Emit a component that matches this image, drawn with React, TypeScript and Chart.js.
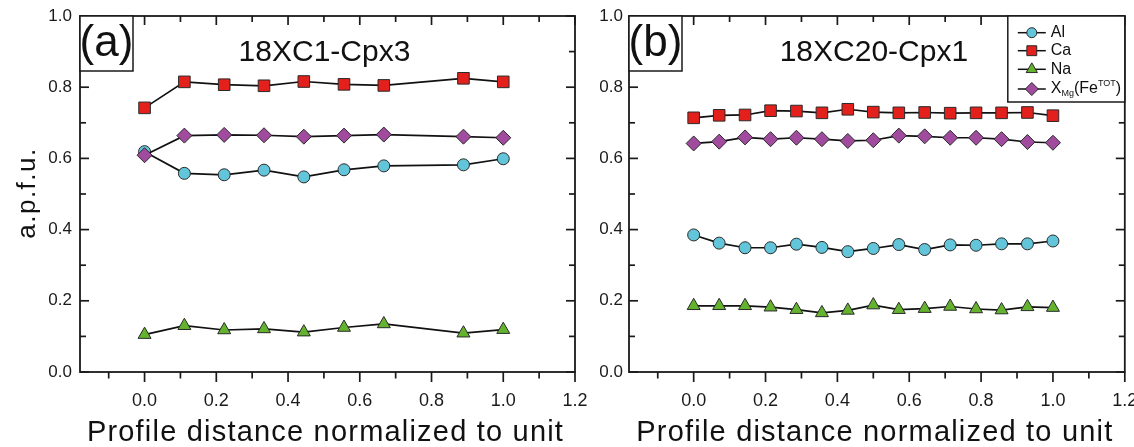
import React, { useEffect, useRef } from 'react';
import { Chart, registerables } from 'chart.js';

Chart.register(...registerables);

const FONT = '"Liberation Sans", Arial, Helvetica, sans-serif';

// ---------- data ----------
const seriesNames = ['Al', 'Ca', 'Na', 'XMg'];

// Panel (a) 18XC1-Cpx3
const aX = [0, 0.111, 0.222, 0.333, 0.444, 0.556, 0.667, 0.889, 1.0];
const aAl = [0.619, 0.558, 0.554, 0.567, 0.548, 0.568, 0.579, 0.582, 0.599];
const aCa = [0.742, 0.815, 0.807, 0.804, 0.816, 0.808, 0.805, 0.825, 0.815];
const aNa = [0.105, 0.13, 0.118, 0.121, 0.112, 0.125, 0.135, 0.109, 0.119];
const aXMg = [0.609, 0.664, 0.666, 0.665, 0.661, 0.664, 0.667, 0.661, 0.658];

// Panel (b) 18XC20-Cpx1
const bX = [0, 0.071, 0.143, 0.214, 0.286, 0.357, 0.429, 0.5, 0.571, 0.643, 0.714, 0.786, 0.857, 0.929, 1.0];
const bAl = [0.385, 0.362, 0.349, 0.349, 0.359, 0.35, 0.338, 0.347, 0.358, 0.344, 0.357, 0.356, 0.36, 0.36, 0.368];
const bCa = [0.714, 0.721, 0.722, 0.734, 0.733, 0.728, 0.738, 0.73, 0.728, 0.729, 0.727, 0.728, 0.728, 0.729, 0.72];
const bNa = [0.186, 0.186, 0.186, 0.182, 0.175, 0.166, 0.173, 0.188, 0.175, 0.178, 0.184, 0.177, 0.174, 0.183, 0.181];
const bXMg = [0.642, 0.647, 0.659, 0.654, 0.658, 0.654, 0.649, 0.651, 0.664, 0.662, 0.658, 0.658, 0.654, 0.646, 0.644];

// axes
const xTicks = [-0.1, 0, 0.1, 0.2, 0.3, 0.4, 0.5, 0.6, 0.7, 0.8, 0.9, 1.0, 1.1, 1.2];
const yTicks = [0, 0.1, 0.2, 0.3, 0.4, 0.5, 0.6, 0.7, 0.8, 0.9, 1.0];
const xMin = -0.18;
const xMax = 1.2;
const yMin = 0;
const yMax = 1.0;
const xTitle = 'Profile distance normalized to unit';
const yTitle = 'a.p.f.u.';

// styles
const COLORS = ['#62C5DA', '#E3201B', '#64B32E', '#A04B9E'];
const STYLES = ['circle', 'rect', 'triangle', 'rectRot'];
const RADII = [6, 8.2, 7.5, 7.5];
const ORDERS = [1, 2, 3, 0];

const isMajor = (v: number) => Math.abs(Math.round(v * 10)) % 2 === 0;

function drawMarker(ctx: CanvasRenderingContext2D, style: string, x: number, y: number, r: number, fill: string) {
  ctx.save();
  ctx.fillStyle = fill;
  ctx.strokeStyle = '#2a2a2a';
  ctx.lineWidth = 1;
  ctx.beginPath();
  if (style === 'circle') {
    ctx.arc(x, y, r, 0, Math.PI * 2);
  } else if (style === 'rect') {
    const s = r * Math.SQRT1_2;
    ctx.rect(x - s, y - s, 2 * s, 2 * s);
  } else if (style === 'triangle') {
    let a = 0;
    ctx.moveTo(x + Math.sin(a) * r, y - Math.cos(a) * r);
    a += (2 * Math.PI) / 3;
    ctx.lineTo(x + Math.sin(a) * r, y - Math.cos(a) * r);
    a += (2 * Math.PI) / 3;
    ctx.lineTo(x + Math.sin(a) * r, y - Math.cos(a) * r);
    ctx.closePath();
  } else {
    ctx.moveTo(x, y - r);
    ctx.lineTo(x + r, y);
    ctx.lineTo(x, y + r);
    ctx.lineTo(x - r, y);
    ctx.closePath();
  }
  ctx.fill();
  ctx.stroke();
  ctx.restore();
}

type PanelProps = {
  xs: number[];
  series: number[][];
  tag: string;
  title: string;
  showYTitle: boolean;
  showLegend: boolean;
  canvasWidth: number;
  left: number;
  yAxisWidth: number;
  padRight: number;
  yLabelPad: number;
};

function makeDeco(p: PanelProps) {
  return {
    id: 'deco',
    afterDraw(chart: any) {
      const ctx: CanvasRenderingContext2D = chart.ctx;
      const { left, right, top, bottom } = chart.chartArea;
      const xs = chart.scales.x;
      const ys = chart.scales.y;
      ctx.save();
      ctx.strokeStyle = '#1a1a1a';
      ctx.lineWidth = 1.7;
      const seg = (x1: number, y1: number, x2: number, y2: number) => {
        ctx.beginPath();
        ctx.moveTo(x1, y1);
        ctx.lineTo(x2, y2);
        ctx.stroke();
      };
      // ticks
      for (const t of xs.ticks) {
        const px = xs.getPixelForValue(t.value);
        const mj = isMajor(t.value);
        seg(px, bottom, px, bottom + (mj ? 10 : 6.5));
        seg(px, top, px, top + (mj ? 9 : 6));
      }
      for (const t of ys.ticks) {
        const py = ys.getPixelForValue(t.value);
        const mj = isMajor(t.value);
        seg(left, py, left + (mj ? 9 : 6), py);
        seg(right, py, right - (mj ? 9 : 6), py);
      }
      // frame
      ctx.lineWidth = 1.8;
      ctx.strokeRect(left, top, right - left, bottom - top);

      // tag box
      ctx.lineWidth = 1.5;
      ctx.fillStyle = '#fff';
      ctx.fillRect(left, top, 53, 55);
      ctx.strokeRect(left, top, 53, 55);
      ctx.fillStyle = '#111';
      ctx.font = `44px ${FONT}`;
      ctx.textAlign = 'center';
      ctx.textBaseline = 'alphabetic';
      ctx.fillText(p.tag, left + 26.5, top + 40);

      // title
      ctx.font = `30px ${FONT}`;
      ctx.fillText(p.title, (left + right) / 2 - 3, 61);

      // x title
      ctx.font = `29px ${FONT}`;
      (ctx as any).letterSpacing = '1.2px';
      ctx.fillText(xTitle, (left + right) / 2 - 2, 441);
      (ctx as any).letterSpacing = '0px';

      // y title
      if (p.showYTitle) {
        ctx.save();
        ctx.translate(28, (top + bottom) / 2);
        ctx.rotate(-Math.PI / 2);
        ctx.font = `26px ${FONT}`;
        (ctx as any).letterSpacing = '1.5px';
        ctx.textBaseline = 'middle';
        ctx.fillText(yTitle, 1, 0);
        ctx.restore();
      }

      // legend
      if (p.showLegend) {
        const bw = 117;
        const bh = 86;
        const bx = right - bw;
        const by = top;
        ctx.fillStyle = '#fff';
        ctx.fillRect(bx, by, bw, bh);
        ctx.strokeStyle = '#1a1a1a';
        ctx.lineWidth = 1.5;
        ctx.strokeRect(bx, by, bw, bh);
        const rows = [16.7, 34.7, 53.3, 73];
        const lr = [5, 7, 6.5, 6.5];
        seriesNames.forEach((name, i) => {
          const yy = by + rows[i];
          ctx.strokeStyle = '#111';
          ctx.lineWidth = 1.5;
          seg(bx + 10, yy, bx + 38, yy);
          drawMarker(ctx, STYLES[i], bx + 24, yy, lr[i], COLORS[i]);
          ctx.fillStyle = '#111';
          ctx.textAlign = 'left';
          ctx.textBaseline = 'middle';
          let tx = bx + 43;
          if (name === 'XMg') {
            const parts: [string, number, number][] = [
              ['X', 16, 0],
              ['Mg', 9, 5],
              ['(Fe', 16, 0],
              ['TOT', 9, -5],
              [')', 16, 0],
            ];
            for (const [s, sz, dy] of parts) {
              ctx.font = `${sz}px ${FONT}`;
              ctx.fillText(s, tx, yy + dy);
              tx += ctx.measureText(s).width;
            }
          } else {
            ctx.font = `16px ${FONT}`;
            ctx.fillText(name, tx, yy);
          }
        });
      }
      ctx.restore();
    },
  };
}

function Panel(p: PanelProps) {
  const ref = useRef<HTMLCanvasElement | null>(null);
  useEffect(() => {
    if (!ref.current) return;
    const datasets = seriesNames.map((name, i) => ({
      label: name,
      data: p.xs.map((x, j) => ({ x, y: p.series[i][j] })),
      showLine: true,
      borderColor: '#111',
      borderWidth: 1.7,
      tension: 0,
      fill: false,
      pointStyle: STYLES[i] as any,
      pointRadius: RADII[i],
      pointHoverRadius: RADII[i],
      pointBackgroundColor: COLORS[i],
      pointBorderColor: '#2a2a2a',
      pointBorderWidth: 1,
      order: ORDERS[i],
      clip: false as any,
    }));
    const chart = new Chart(ref.current, {
      type: 'line',
      data: { datasets },
      options: {
        animation: false,
        responsive: false,
        maintainAspectRatio: false,
        devicePixelRatio: 1,
        layout: { padding: { left: 0, right: p.padRight, top: 16, bottom: 0 } },
        plugins: { legend: { display: false }, tooltip: { enabled: false }, title: { display: false } },
        scales: {
          x: {
            type: 'linear',
            min: xMin,
            max: xMax,
            grid: { display: false, drawTicks: false },
            border: { display: false },
            afterBuildTicks: (s: any) => {
              s.ticks = xTicks.map((v) => ({ value: v }));
            },
            afterFit: (s: any) => {
              s.height = 75;
              s.paddingLeft = 0;
              s.paddingRight = 0;
            },
            ticks: {
              autoSkip: false,
              maxRotation: 0,
              minRotation: 0,
              padding: 18,
              color: '#1a1a1a',
              font: { family: FONT, size: 18 },
              callback: (v: any) => (isMajor(Number(v)) ? Number(v).toFixed(1) : ''),
            },
          },
          y: {
            type: 'linear',
            min: yMin,
            max: yMax,
            grid: { display: false, drawTicks: false },
            border: { display: false },
            afterBuildTicks: (s: any) => {
              s.ticks = yTicks.map((v) => ({ value: v }));
            },
            afterFit: (s: any) => {
              s.width = p.yAxisWidth;
              s.paddingTop = 0;
              s.paddingBottom = 0;
            },
            ticks: {
              autoSkip: false,
              padding: p.yLabelPad,
              color: '#1a1a1a',
              font: { family: FONT, size: 17 },
              callback: (v: any) => (isMajor(Number(v)) ? Number(v).toFixed(1) : ''),
            },
          },
        },
      },
      plugins: [makeDeco(p)],
    });
    return () => chart.destroy();
  }, []);
  return (
    <canvas
      ref={ref}
      width={p.canvasWidth}
      height={447}
      style={{ position: 'absolute', left: p.left, top: 0, width: p.canvasWidth, height: 447 }}
    />
  );
}

export default function App() {
  return (
    <div style={{ position: 'absolute', left: 0, top: 0, width: 1134, height: 447, overflow: 'hidden', background: '#fff' }}>
      <Panel
        xs={aX}
        series={[aAl, aCa, aNa, aXMg]}
        tag="(a)"
        title="18XC1-Cpx3"
        showYTitle={true}
        showLegend={false}
        canvasWidth={590}
        left={0}
        yAxisWidth={80}
        padRight={15}
        yLabelPad={8}
      />
      <Panel
        xs={bX}
        series={[bAl, bCa, bNa, bXMg]}
        tag="(b)"
        title="18XC20-Cpx1"
        showYTitle={false}
        showLegend={true}
        canvasWidth={544}
        left={590}
        yAxisWidth={39}
        padRight={9}
        yLabelPad={6}
      />
    </div>
  );
}
